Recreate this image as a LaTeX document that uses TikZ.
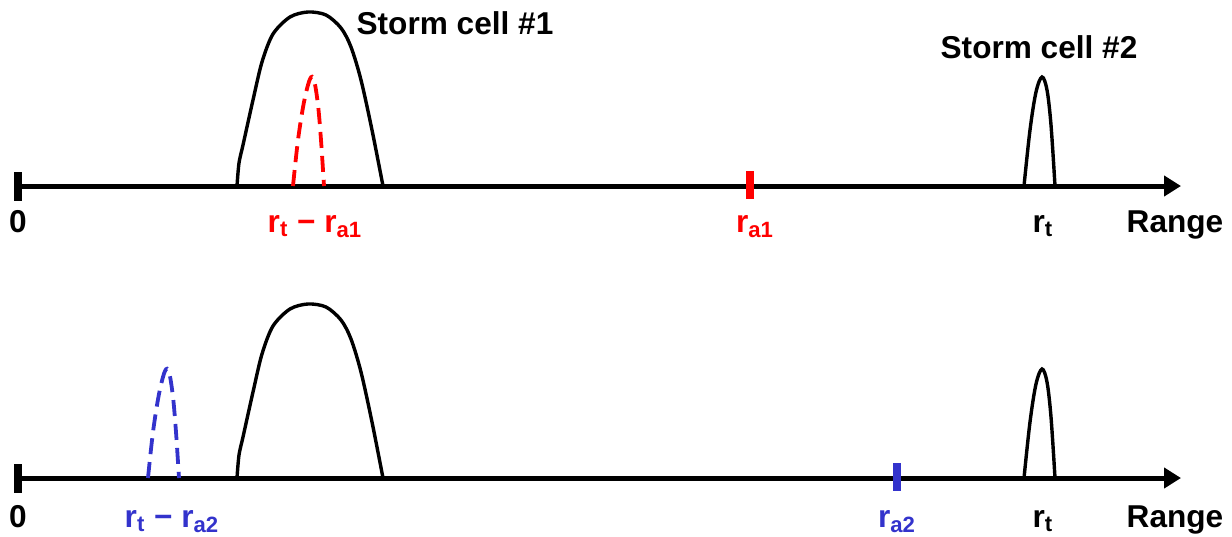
\documentclass[tikz,border=0pt]{standalone}
\usepackage{fontspec}
\setmainfont{Liberation Sans}
\usetikzlibrary{arrows.meta}
\definecolor{cred}{RGB}{255,0,0}
\definecolor{cblue}{RGB}{51,51,204}
\tikzset{
  axisline/.style={line width=2.5pt,-{Triangle[length=8.5pt,width=10pt]}},
  zerotick/.style={line width=4pt},
  marktick/.style={line width=4pt},
  cellcurve/.style={line width=1.7pt},
  echocurve/.style={line width=1.9pt,dash pattern=on 8pt off 4pt},
  lbl/.style={font=\fontsize{15.8pt}{19pt}\selectfont\bfseries,inner sep=0pt,anchor=base},
}
\begin{document}
\begin{tikzpicture}[x=0.5pt,y=-0.5pt]
\useasboundingbox (0,0) rectangle (1232,536);
% ---------- row 1 ----------
\coordinate (a1s) at (18,186);
\coordinate (a1e) at (1181,186);
\draw[axisline] (a1s) -- (a1e);
\coordinate (z1t) at (18,172);
\coordinate (z1b) at (18,201);
\draw[zerotick] (z1t) -- (z1b);
\coordinate (ra1t) at (750,171);
\coordinate (ra1b) at (750,199);
\draw[marktick,cred] (ra1t) -- (ra1b);
% storm cell 1
\draw[cellcurve] plot[smooth,tension=0.5] coordinates {(237,186) (239,163) (243,145) (253,100) (262,62) (273,34) (290,17) (308,12) (326,15) (341,28) (351,47) (361,80) (372,130) (383,186)};
% echo
\draw[echocurve,cred] plot[smooth,tension=0.55] coordinates {(293,186) (298,140) (304,102) (310,79) (314,80) (318,105) (321,140) (324,186)};
% storm cell 2
\draw[cellcurve] plot[smooth,tension=0.55] coordinates {(1024,186) (1030,130) (1036,92) (1042,77) (1047,90) (1051,125) (1055,186)};
\node[lbl] (sc1) at (455,34) {Storm cell \#1};
\node[lbl] (sc2) at (1039,58) {Storm cell \#2};
\node[lbl] (z1) at (18,232) {0};
\node[lbl,cred] (d1) at (315,232) {r\textsubscript{t} − r\textsubscript{a1}};
\node[lbl,cred] (ra1) at (755,232) {r\textsubscript{a1}};
\node[lbl] (rt1) at (1043,232) {r\textsubscript{t}};
\node[lbl] (rg1) at (1175,232) {Range};
% ---------- row 2 ----------
\begin{scope}[shift={(0,292)}]
\coordinate (a2s) at (18,186);
\coordinate (a2e) at (1181,186);
\draw[axisline] (a2s) -- (a2e);
\coordinate (z2t) at (18,172);
\coordinate (z2b) at (18,201);
\draw[zerotick] (z2t) -- (z2b);
\coordinate (ra2t) at (897,171);
\coordinate (ra2b) at (897,199);
\draw[marktick,cblue] (ra2t) -- (ra2b);
\draw[cellcurve] plot[smooth,tension=0.5] coordinates {(237,186) (239,163) (243,145) (253,100) (262,62) (273,34) (290,17) (308,12) (326,15) (341,28) (351,47) (361,80) (372,130) (383,186)};
\draw[echocurve,cblue] plot[smooth,tension=0.55] coordinates {(148,186) (153,140) (159,102) (165,79) (169,80) (173,105) (176,140) (179,186)};
\draw[cellcurve] plot[smooth,tension=0.55] coordinates {(1024,186) (1030,130) (1036,92) (1042,77) (1047,90) (1051,125) (1055,186)};
\node[lbl] (z2) at (18,235) {0};
\node[lbl,cblue] (d2) at (172,235) {r\textsubscript{t} − r\textsubscript{a2}};
\node[lbl,cblue] (ra2) at (897,235) {r\textsubscript{a2}};
\node[lbl] (rt2) at (1043,235) {r\textsubscript{t}};
\node[lbl] (rg2) at (1175,235) {Range};
\end{scope}
\end{tikzpicture}
\end{document}
